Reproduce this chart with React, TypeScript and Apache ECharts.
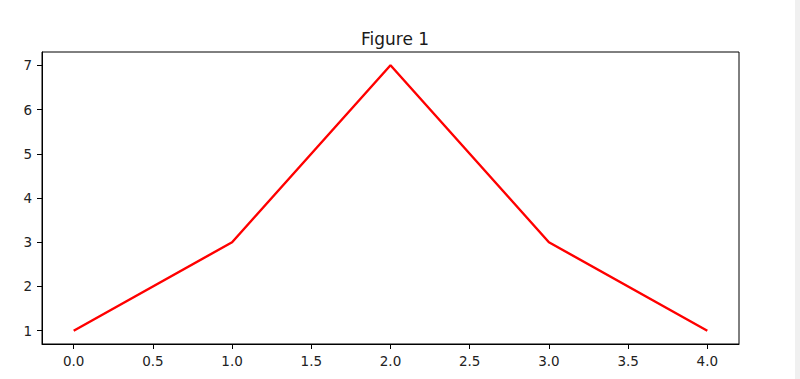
import React, { useEffect, useRef } from "react";
import * as echarts from "echarts";

const xValues = [0, 1, 2, 3, 4];
const yValues = [1, 3, 7, 3, 1];
const xTicks = [0, 0.5, 1, 1.5, 2, 2.5, 3, 3.5, 4];
const yTicks = [1, 2, 3, 4, 5, 6, 7];
const titleText = "Figure 1";

export default function App() {
  const ref = useRef<HTMLDivElement>(null);
  useEffect(() => {
    if (!ref.current) return;
    const chart = echarts.init(ref.current, null, { renderer: "svg" });
    const font = "DejaVu Sans";
    chart.setOption({
      animation: false,
      backgroundColor: "#ffffff",
      title: {
        text: titleText,
        left: 390,
        textAlign: "center",
        top: 25,
        textStyle: { fontFamily: font, fontSize: 17, fontWeight: "normal", color: "#1a1a1a" },
      },
      grid: {
        left: 42,
        right: 61,
        top: 52,
        bottom: 35,
        show: true,
        borderColor: "#000",
        borderWidth: 1,
        backgroundColor: "transparent",
      },
      xAxis: {
        type: "value",
        min: -0.2,
        max: 4.2,
        splitLine: { show: false },
        axisLine: { show: true, onZero: false, lineStyle: { color: "#000", width: 1 } },
        axisTick: { show: true, length: 5, lineStyle: { color: "#000" }, customValues: xTicks },
        axisLabel: {
          customValues: xTicks,
          formatter: (v: number) => v.toFixed(1),
          fontFamily: font,
          fontSize: 13.5,
          color: "#222",
          margin: 10,
        },
      },
      yAxis: {
        type: "value",
        min: 0.7,
        max: 7.3,
        splitLine: { show: false },
        axisLine: { show: true, onZero: false, lineStyle: { color: "#000", width: 1 } },
        axisTick: { show: true, length: 5, lineStyle: { color: "#000" }, customValues: yTicks },
        axisLabel: {
          customValues: yTicks,
          formatter: (v: number) => String(v),
          fontFamily: font,
          fontSize: 13.5,
          color: "#222",
          margin: 10,
        },
      },
      series: [
        {
          type: "line",
          data: xValues.map((x, i) => [x, yValues[i]]),
          showSymbol: false,
          lineStyle: { color: "#ff0000", width: 2.4 },
          itemStyle: { color: "#ff0000" },
        },
      ],
      graphic: [
        {
          type: "rect",
          right: 0,
          top: 0,
          shape: { width: 5, height: 379 },
          style: { fill: "#f0f0f0" },
        },
      ],
    });
    return () => chart.dispose();
  }, []);
  return (
    <div
      ref={ref}
      style={{ position: "fixed", left: 0, top: 0, width: 800, height: 379 }}
    />
  );
}
